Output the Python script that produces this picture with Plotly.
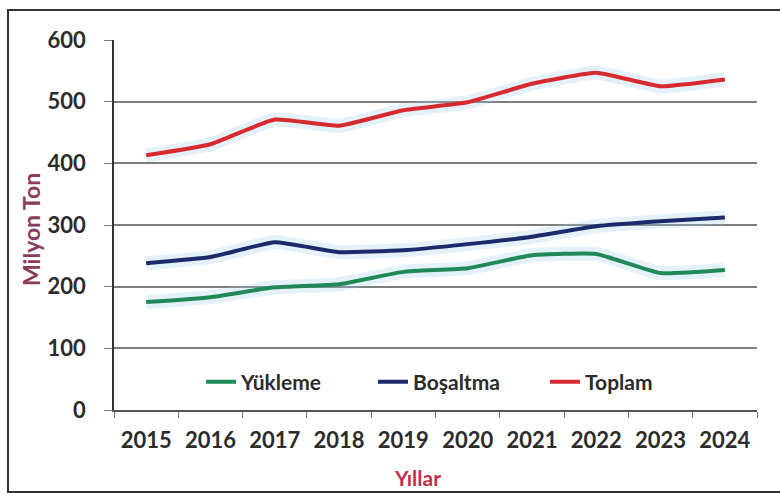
import plotly.graph_objects as go

# Yıllık elleçleme verileri (milyon ton)
years = ["2015", "2016", "2017", "2018", "2019", "2020", "2021", "2022", "2023", "2024"]
yukleme = [175, 183, 199, 204, 224, 230, 251, 253, 222, 227]
bosaltma = [238, 248, 272, 256, 259, 269, 281, 298, 306, 312]
toplam = [413, 431, 471, 461, 486, 499, 529, 547, 525, 536]
y_ticks = [0, 100, 200, 300, 400, 500, 600]

series = [
    ("Yükleme", yukleme, "#1f8a57"),
    ("Boşaltma", bosaltma, "#1c2a6b"),
    ("Toplam", toplam, "#d62a2e"),
]

FONT = "Lato"
TEXT = "#2b2b2b"

fig = go.Figure()

# soft light-blue halo under each line
for name, vals, col in series:
    fig.add_trace(go.Scatter(
        x=years, y=vals, mode="lines", showlegend=False, hoverinfo="skip",
        line=dict(color="rgba(160,205,235,0.28)", width=14, shape="spline", smoothing=0.4),
    ))

for name, vals, col in series:
    fig.add_trace(go.Scatter(
        x=years, y=vals, mode="lines", name=name,
        line=dict(color=col, width=4, shape="spline", smoothing=0.4),
    ))

# plot area spans x 114..757, y 40..410 in an 780x495 canvas
L, R, T, B = 114, 23, 40, 85
PW, PH = 780 - L - R, 495 - T - B

def px(x):
    return (x - L) / PW

def py(y):
    return (495 - B - y) / PH

fig.update_layout(
    width=780, height=495,
    margin=dict(l=L, r=R, t=T, b=B),
    paper_bgcolor="white", plot_bgcolor="white",
    font=dict(family=FONT, size=20, color=TEXT, weight="bold"),
    showlegend=True,
    legend=dict(
        orientation="h", x=px(201), y=py(382), xanchor="left", yanchor="middle",
        bgcolor="rgba(0,0,0,0)", font=dict(family=FONT, size=21, color=TEXT, weight="bold"),
        entrywidth=127, entrywidthmode="pixels", traceorder="normal",
    ),
    xaxis=dict(
        type="category", showgrid=False, showline=True, linecolor="#555", linewidth=1.5,
        ticks="outside", tickson="boundaries", ticklen=6, tickcolor="#777",
        tickfont=dict(family=FONT, size=22, color=TEXT, weight="bold"),
        ticklabelstandoff=10, range=[-0.5, 9.5], fixedrange=True,
    ),
    yaxis=dict(
        range=[0, 600], tickvals=y_ticks, ticktext=[str(v) for v in y_ticks],
        showgrid=True, gridcolor="#7d7d7d", gridwidth=1.5,
        showline=True, linecolor="#333", linewidth=1.5, zeroline=False,
        ticks="outside", ticklen=8, tickcolor="#7d7d7d",
        tickfont=dict(family=FONT, size=22, color=TEXT, weight="bold"),
        ticklabelstandoff=14,
    ),
    annotations=[
        dict(text="Milyon Ton", xref="paper", yref="paper", x=px(31), y=py(230),
             textangle=-90, showarrow=False, xanchor="center", yanchor="middle",
             font=dict(family=FONT, size=23, color="#8a3c5c", weight="bold")),
        dict(text="Yıllar", xref="paper", yref="paper", x=px(417), y=py(478),
             showarrow=False, xanchor="center", yanchor="middle",
             font=dict(family=FONT, size=21, color="#c4304a", weight="bold")),
    ],
    shapes=[
        dict(type="rect", xref="paper", yref="paper",
             x0=px(8), x1=px(783), y0=py(492), y1=py(10),
             line=dict(color="#333", width=2), fillcolor="rgba(0,0,0,0)", layer="below"),
    ],
)

fig.write_html("out.html")
